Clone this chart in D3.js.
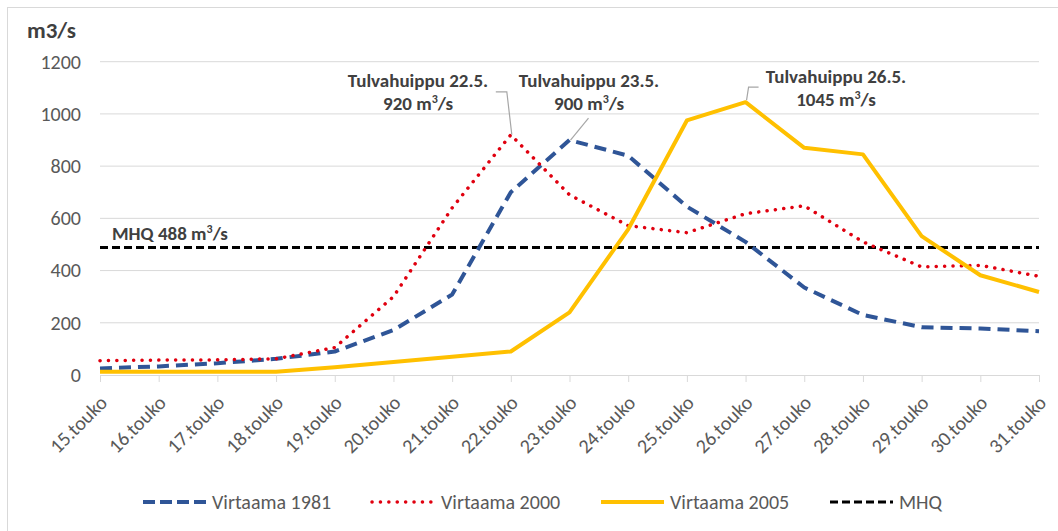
<!DOCTYPE html>
<html>
<head>
<meta charset="utf-8">
<script src="https://cdn.jsdelivr.net/npm/d3@7"></script>
<style>
    body { margin: 0; background: #fff; }
    svg text { font-family: Carlito, "Liberation Sans Narrow", "Open Sans", sans-serif; }
</style>
</head>
<body>
<div id="chart"></div>
<script>
const days = ["15.touko", "16.touko", "17.touko", "18.touko", "19.touko", "20.touko", "21.touko", "22.touko",
    "23.touko", "24.touko", "25.touko", "26.touko", "27.touko", "28.touko", "29.touko", "30.touko", "31.touko"];
const flow1981 = [25, 33, 45, 62, 90, 172, 308, 700, 900, 840, 645, 510, 335, 230, 183, 178, 168];
const flow2000 = [55, 57, 58, 62, 105, 300, 640, 920, 690, 572, 545, 618, 648, 510, 414, 420, 378];
const flow2005 = [12, 12, 12, 12, 30, 50, 70, 90, 240, 558, 975, 1045, 870, 845, 532, 382, 318];
const mhq = 488;
const yTicks = [0, 200, 400, 600, 800, 1000, 1200];
const legendLabels = ["Virtaama 1981", "Virtaama 2000", "Virtaama 2005", "MHQ"];
const peaks = [
    { day: "22.touko", value: 920, line1: "Tulvahuippu 22.5.", num: "920" },
    { day: "23.touko", value: 900, line1: "Tulvahuippu 23.5.", num: "900" },
    { day: "26.touko", value: 1045, line1: "Tulvahuippu 26.5.", num: "1045" }
];

const width = 1058;
const height = 531;

const svg = d3.select("#chart")
    .append("svg")
    .attr("width", width)
    .attr("height", height);

// chart border
svg.append("rect")
    .attr("x", 7.5).attr("y", 7.5)
    .attr("width", width).attr("height", height)
    .attr("fill", "none")
    .attr("stroke", "#d9d9d9");

const x = d3.scalePoint().domain(days).range([100, 1039]);
const y = d3.scaleLinear().domain([0, 1200]).range([375, 61.7]);

// gridlines
svg.append("g")
    .selectAll("line")
    .data(yTicks.slice(1))
    .enter().append("line")
    .attr("x1", 100).attr("x2", 1039)
    .attr("y1", d => y(d)).attr("y2", d => y(d))
    .attr("stroke", "#d9d9d9")
    .attr("stroke-width", 1);

// y axis labels
const yAxis = svg.append("g")
    .attr("transform", "translate(100,0)")
    .call(d3.axisLeft(y).tickValues(yTicks).tickFormat(d3.format("d")).tickSize(0).tickPadding(19));
yAxis.select(".domain").remove();
yAxis.selectAll("text")
    .style("font-size", "20px")
    .style("fill", "#595959");

// x axis
const xAxis = svg.append("g")
    .attr("transform", `translate(0,${y(0)})`)
    .call(d3.axisBottom(x).tickSize(7).tickSizeOuter(0));
xAxis.select(".domain").attr("stroke", "#d9d9d9");
xAxis.selectAll(".tick line").attr("stroke", "#d9d9d9");
xAxis.selectAll("text")
    .style("font-size", "20px")
    .style("fill", "#595959")
    .attr("text-anchor", "end")
    .attr("dy", "0.35em")
    .attr("y", 0)
    .attr("x", 0)
    .attr("transform", "translate(3,24) rotate(-45)");

svg.append("text")
    .attr("x", 27).attr("y", 38)
    .style("font-size", "23px")
    .style("font-weight", "bold")
    .style("fill", "#404040")
    .text("m3/s");

const line = d3.line()
    .x((d, i) => x(days[i]))
    .y(d => y(d));

// MHQ line
svg.append("line")
    .attr("x1", 100).attr("x2", 1039)
    .attr("y1", y(mhq)).attr("y2", y(mhq))
    .attr("stroke", "#000")
    .attr("stroke-width", 3)
    .attr("stroke-dasharray", "8,4");

svg.append("text")
    .attr("x", 112).attr("y", 240)
    .style("font-size", "19px")
    .style("font-weight", "bold")
    .style("fill", "#404040")
    .html("MHQ 488 m<tspan dy='-7' font-size='12px'>3</tspan><tspan dy='7'>/s</tspan>");

const series = [
    { data: flow1981, color: "#2f5597", width: 4, dash: "12,7", cap: "butt" },
    { data: flow2000, color: "#e0000f", width: 3.5, dash: "0.1,8.3", cap: "round" },
    { data: flow2005, color: "#ffc000", width: 4, dash: null, cap: "butt" }
];

series.forEach(s => {
    svg.append("path")
        .datum(s.data)
        .attr("d", line)
        .attr("fill", "none")
        .attr("stroke", s.color)
        .attr("stroke-width", s.width)
        .attr("stroke-linecap", s.cap)
        .attr("stroke-linejoin", "round")
        .attr("stroke-dasharray", s.dash);
});

// peak annotations
const annot = [
    { cx: 418, ty: 87, leader: [[-15, -43], [-4, -43], [1, 0]] },
    { cx: 589, ty: 87, leader: [[19, -22], [1, 0]] },
    { cx: 836, ty: 83, leader: [[13, -15], [3, -15], [1, -2]] }
];

peaks.forEach((p, i) => {
    const a = annot[i];
    const px = x(p.day), py = y(p.value);
    svg.append("path")
        .attr("d", d3.line()(a.leader.map(o => [px + o[0], py + o[1]])))
        .attr("fill", "none")
        .attr("stroke", "#a6a6a6")
        .attr("stroke-width", 1.2);
    svg.append("text")
        .attr("x", a.cx).attr("y", a.ty)
        .attr("text-anchor", "middle")
        .style("font-size", "19px")
        .style("font-weight", "bold")
        .style("fill", "#404040")
        .text(p.line1);
    svg.append("text")
        .attr("x", a.cx).attr("y", a.ty + 23)
        .attr("text-anchor", "middle")
        .style("font-size", "19px")
        .style("font-weight", "bold")
        .style("fill", "#404040")
        .html(`${p.num} m<tspan dy='-7' font-size='12px'>3</tspan><tspan dy='7'>/s</tspan>`);
});

// legend
const legendX = [143, 372, 601, 830];
const legendStyles = [
    { color: "#2f5597", width: 4, dash: "12,5", cap: "butt" },
    { color: "#e0000f", width: 3.5, dash: "0.1,8.3", cap: "round" },
    { color: "#ffc000", width: 4, dash: null, cap: "butt" },
    { color: "#000", width: 3, dash: "8,4", cap: "butt" }
];
const legend = svg.append("g");
legendLabels.forEach((lab, i) => {
    const st = legendStyles[i];
    legend.append("line")
        .attr("x1", legendX[i]).attr("x2", legendX[i] + 63)
        .attr("y1", 502).attr("y2", 502)
        .attr("stroke", st.color)
        .attr("stroke-width", st.width)
        .attr("stroke-linecap", st.cap)
        .attr("stroke-dasharray", st.dash);
    legend.append("text")
        .attr("x", legendX[i] + 69).attr("y", 509)
        .style("font-size", "20px")
        .style("fill", "#595959")
        .text(lab);
});
</script>
</body>
</html>
